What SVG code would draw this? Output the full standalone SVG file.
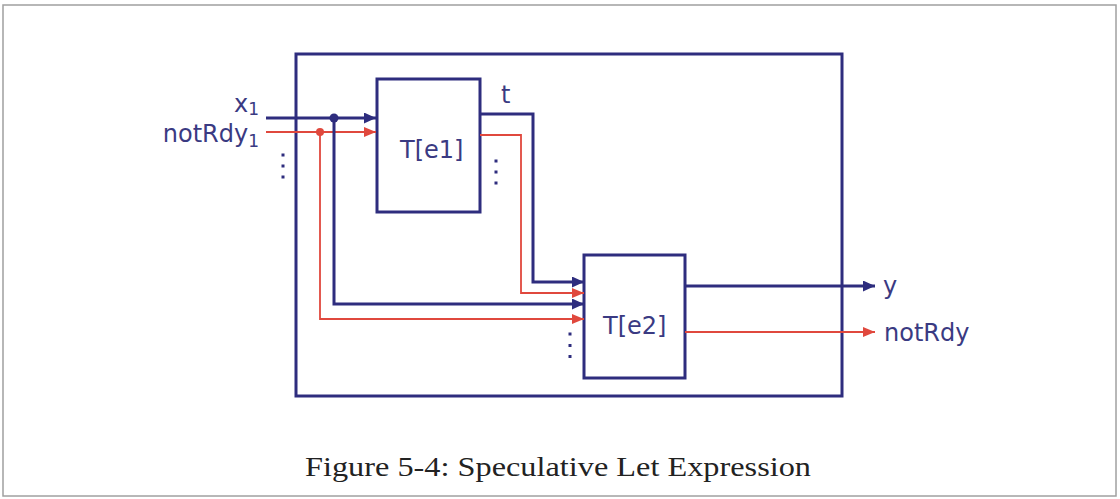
<svg xmlns="http://www.w3.org/2000/svg" width="1120" height="499" viewBox="0 0 1120 499">
<defs>
<style>
.frame{fill:none;stroke:#a0a0a0;stroke-width:1.5}
.box{fill:#fff;stroke:#2e2d7e;stroke-width:3}
.nv{fill:none;stroke:#2e2d7e;stroke-width:3}
.rd{fill:none;stroke:#e0483d;stroke-width:1.8}
.lbl{font-family:"DejaVu Sans","Verdana",sans-serif;font-size:24px;fill:#3a3a82}
.sub{font-size:17px}
.cap{font-family:"Liberation Serif","Times New Roman",serif;font-size:28px;fill:#222}
.dn{fill:#2e2d7e}
.dr{fill:#e0483d}
</style>
<marker id="an" markerUnits="userSpaceOnUse" markerWidth="13" markerHeight="11" refX="12" refY="5.5" orient="auto">
<path d="M0,0 L12,5.5 L0,11 Z" fill="#2e2d7e"/>
</marker>
<marker id="ar" markerUnits="userSpaceOnUse" markerWidth="13" markerHeight="11" refX="12" refY="5.5" orient="auto">
<path d="M0,0.5 L12,5.5 L0,10.5 Z" fill="#e0483d"/>
</marker>
</defs>
<rect class="frame" x="3" y="5" width="1113" height="491"/>
<g id="outer"><rect class="box" x="296" y="54" width="546" height="342"/></g>
<g id="te1"><rect class="box" x="377" y="79" width="103" height="133"/><text class="lbl" x="400" y="158">T[e1]</text></g>
<g id="te2"><rect class="box" x="584" y="255" width="101" height="123"/><text class="lbl" x="603" y="334">T[e2]</text></g>
<g id="labels">
<text class="lbl" x="259" y="112" text-anchor="end">x<tspan class="sub" dy="3">1</tspan></text>
<text class="lbl" x="259" y="142" text-anchor="end">notRdy<tspan class="sub" dy="5">1</tspan></text>
<text class="lbl" x="501" y="103">t</text>
<text class="lbl" x="883" y="294">y</text>
<text class="lbl" x="884" y="341">notRdy</text>
</g>
<g id="connectors">
<path class="nv" d="M266,118 H376" marker-end="url(#an)"/>
<path class="rd" d="M266,132 H376" marker-end="url(#ar)"/>
<path class="nv" d="M334,118 V304 H584" marker-end="url(#an)"/>
<path class="rd" d="M320,132 V319 H584" marker-end="url(#ar)"/>
<path class="nv" d="M480,114 H533 V282 H584" marker-end="url(#an)"/>
<path class="rd" d="M480,135 H521 V293 H584" marker-end="url(#ar)"/>
<path class="nv" d="M685,286 H875" marker-end="url(#an)"/>
<path class="rd" d="M685,332 H875" marker-end="url(#ar)"/>
<circle class="dn" cx="334" cy="118" r="4.5"/>
<circle class="dr" cx="320" cy="132" r="4"/>
</g>
<g id="ellipses">
<rect class="dn" x="281.5" y="153.5" width="3" height="3"/>
<rect class="dn" x="281.5" y="164.5" width="3" height="3"/>
<rect class="dn" x="281.5" y="175.5" width="3" height="3"/>
<rect class="dn" x="494.5" y="159.5" width="3" height="3"/>
<rect class="dn" x="494.5" y="170.5" width="3" height="3"/>
<rect class="dn" x="494.5" y="181.5" width="3" height="3"/>
<rect class="dn" x="568.5" y="332.5" width="3" height="3"/>
<rect class="dn" x="568.5" y="344" width="3" height="3"/>
<rect class="dn" x="568.5" y="355" width="3" height="3"/>
</g>
<text class="cap" x="558" y="476" text-anchor="middle" textLength="506" lengthAdjust="spacingAndGlyphs">Figure 5-4: Speculative Let Expression</text>
</svg>
